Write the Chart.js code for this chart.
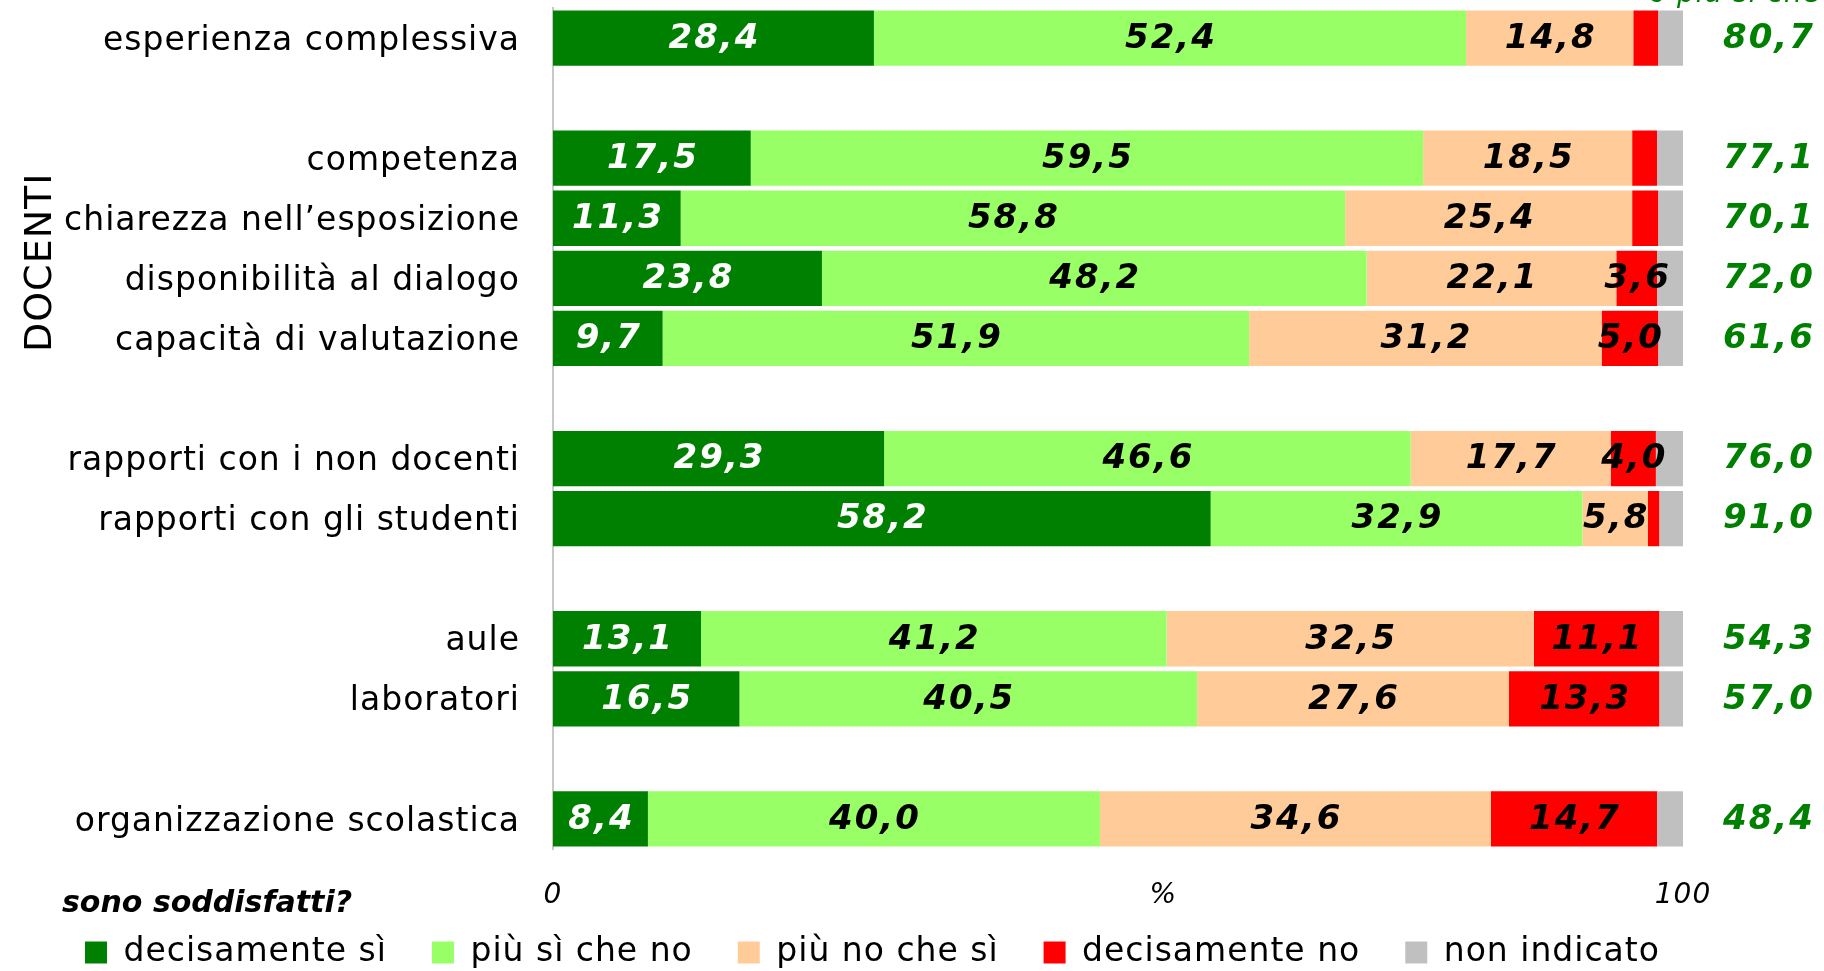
<!DOCTYPE html>
<html>
<head>
<meta charset="utf-8">
<script src="https://cdn.jsdelivr.net/npm/chart.js@4.4.0/dist/chart.umd.min.js"></script>
<style>
  html, body { margin: 0; padding: 0; background: #fff; overflow: hidden; }
  #view { width: 1824px; height: 971px; overflow: hidden; }
  #wrap { width: 1824px; height: 979px; }
</style>
</head>
<body>
<div id="view"><div id="wrap"><canvas id="chart"></canvas></div></div>
<script>
// rows ('' = empty separator row)
const categories = [
  'esperienza complessiva', '',
  'competenza', 'chiarezza nell\u2019esposizione', 'disponibilità al dialogo', 'capacità di valutazione', '',
  'rapporti con i non docenti', 'rapporti con gli studenti', '',
  'aule', 'laboratori', '',
  'organizzazione scolastica'
];
const decisamenteSi  = [28.4, null, 17.5, 11.3, 23.8,  9.7, null, 29.3, 58.2, null, 13.1, 16.5, null,  8.4];
const piuSiCheNo     = [52.4, null, 59.5, 58.8, 48.2, 51.9, null, 46.6, 32.9, null, 41.2, 40.5, null, 40.0];
const piuNoCheSi     = [14.8, null, 18.5, 25.4, 22.1, 31.2, null, 17.7,  5.8, null, 32.5, 27.6, null, 34.6];
const decisamenteNo  = [ 2.2, null,  2.2,  2.3,  3.6,  5.0, null,  4.0,  1.0, null, 11.1, 13.3, null, 14.7];
const nonIndicato    = [ 2.2, null,  2.3,  2.2,  2.3,  2.2, null,  2.4,  2.1, null,  2.1,  2.1, null,  2.3];
// right column: decisamente sì + più sì che no
const totaliPositivi = [80.7, null, 77.1, 70.1, 72.0, 61.6, null, 76.0, 91.0, null, 54.3, 57.0, null, 48.4];
const seriesNames = ['decisamente sì', 'più sì che no', 'più no che sì', 'decisamente no', 'non indicato'];
const seriesColors = ['#008000', '#99FF66', '#FFCC99', '#FF0000', '#C0C0C0'];
const xTickValues = [0, 54, 100];   // 54 carries the '%' label
const xTickLabel = v => (v === 54 ? '%' : String(v));

const FONT = '"DejaVu Sans", Verdana, sans-serif';
const fmt = v => v.toFixed(1).replace('.', ',');

// the original text is set a little loose
const spacing = {
  id: 'spacing',
  beforeUpdate(chart) { chart.ctx.letterSpacing = '1px'; },
  beforeDraw(chart) { chart.ctx.letterSpacing = '1px'; }
};

// keep the axes from reserving room for half-labels at the ends
const noEndPadding = s => {
  s.paddingTop = 0; s.paddingBottom = 0; s.paddingLeft = 0; s.paddingRight = 0;
};

const annotations = {
  id: 'annotations',
  afterDatasetsDraw(chart) {
    const ctx = chart.ctx;
    ctx.save();
    ctx.letterSpacing = '2px';
    ctx.font = 'italic bold 34px ' + FONT;
    ctx.textAlign = 'center';
    ctx.textBaseline = 'middle';
    chart.data.datasets.forEach((ds, di) => {
      if (di > 3) return;
      chart.getDatasetMeta(di).data.forEach((bar, i) => {
        const v = ds.data[i];
        if (v == null || v < 3) return;
        ctx.fillStyle = di === 0 ? '#FFFFFF' : '#000000';
        ctx.fillText(fmt(v), (bar.x + bar.base) / 2 + 1, bar.y + 1);
      });
    });
    // totals column
    const meta0 = chart.getDatasetMeta(0);
    ctx.fillStyle = '#008000';
    totaliPositivi.forEach((v, i) => {
      if (v == null) return;
      ctx.fillText(fmt(v), chart.chartArea.right + 86, meta0.data[i].y + 1);
    });
    ctx.restore();
  },
  afterDraw(chart) {
    const ctx = chart.ctx;
    const y = chart.scales.y;
    const x = chart.scales.x;
    ctx.save();
    // x tick labels (drawn here so they can sit below the short axis box)
    ctx.fillStyle = '#000';
    ctx.font = 'italic 28px ' + FONT;
    ctx.textAlign = 'center';
    ctx.textBaseline = 'middle';
    x.ticks.forEach(t => ctx.fillText(xTickLabel(t.value), x.getPixelForValue(t.value), chart.chartArea.bottom + 47));
    // clipped column heading at the top
    ctx.fillStyle = '#008000';
    ctx.font = 'italic 28px ' + FONT;
    ctx.textAlign = 'left';
    ctx.textBaseline = 'alphabetic';
    ctx.fillText('o più sì che no', 1649, 2);
    // DOCENTI group label
    ctx.fillStyle = '#000';
    ctx.font = '38px ' + FONT;
    ctx.textAlign = 'center';
    ctx.textBaseline = 'middle';
    ctx.translate(41, (y.getPixelForValue(2) + y.getPixelForValue(5)) / 2 + 14);
    ctx.rotate(-Math.PI / 2);
    ctx.fillText('DOCENTI', 0, 0);
    ctx.restore();
    // legend heading
    ctx.save();
    ctx.letterSpacing = '0px';
    ctx.fillStyle = '#000';
    ctx.font = 'italic bold 30px ' + FONT;
    ctx.textAlign = 'left';
    ctx.textBaseline = 'middle';
    ctx.fillText('sono soddisfatti?', 62, 904);
    ctx.restore();
  }
};

const series = [decisamenteSi, piuSiCheNo, piuNoCheSi, decisamenteNo, nonIndicato];

new Chart(document.getElementById('chart'), {
  type: 'bar',
  data: {
    labels: categories,
    datasets: series.map((d, i) => ({
      label: seriesNames[i],
      data: d,
      backgroundColor: seriesColors[i],
      borderWidth: 0,
      categoryPercentage: 1,
      barPercentage: 0.92
    }))
  },
  options: {
    indexAxis: 'y',
    responsive: true,
    maintainAspectRatio: false,
    animation: false,
    layout: { padding: { top: 8, left: 40, right: 0, bottom: 0 } },
    scales: {
      x: {
        type: 'linear',
        stacked: true,
        min: 0,
        max: 100,
        grid: { display: false, drawTicks: false },
        border: { display: false },
        afterBuildTicks: s => { s.ticks = xTickValues.map(v => ({ value: v })); },
        afterFit: s => { s.height = 42; noEndPadding(s); },
        ticks: { display: false }
      },
      y: {
        stacked: true,
        grid: { display: false, drawTicks: true, tickLength: 33 },
        border: { display: true, color: '#C8C8C8', width: 2 },
        afterFit: s => { s.width = 553 - 40; noEndPadding(s); },
        ticks: {
          autoSkip: false,
          padding: 0,
          labelOffset: 3,
          color: '#000',
          font: { family: FONT, size: 33 }
        }
      },
      yRight: {
        type: 'linear',
        position: 'right',
        display: true,
        grid: { display: false, drawTicks: false },
        border: { display: false },
        ticks: { display: false },
        afterFit: s => { s.width = 141; noEndPadding(s); }
      }
    },
    plugins: {
      legend: {
        position: 'bottom',
        align: 'start',
        labels: {
          boxWidth: 22,
          boxHeight: 22,
          padding: 45,
          color: '#000',
          font: { family: FONT, size: 33 }
        }
      },
      tooltip: { enabled: false }
    }
  },
  plugins: [spacing, annotations]
});
</script>
</body>
</html>
